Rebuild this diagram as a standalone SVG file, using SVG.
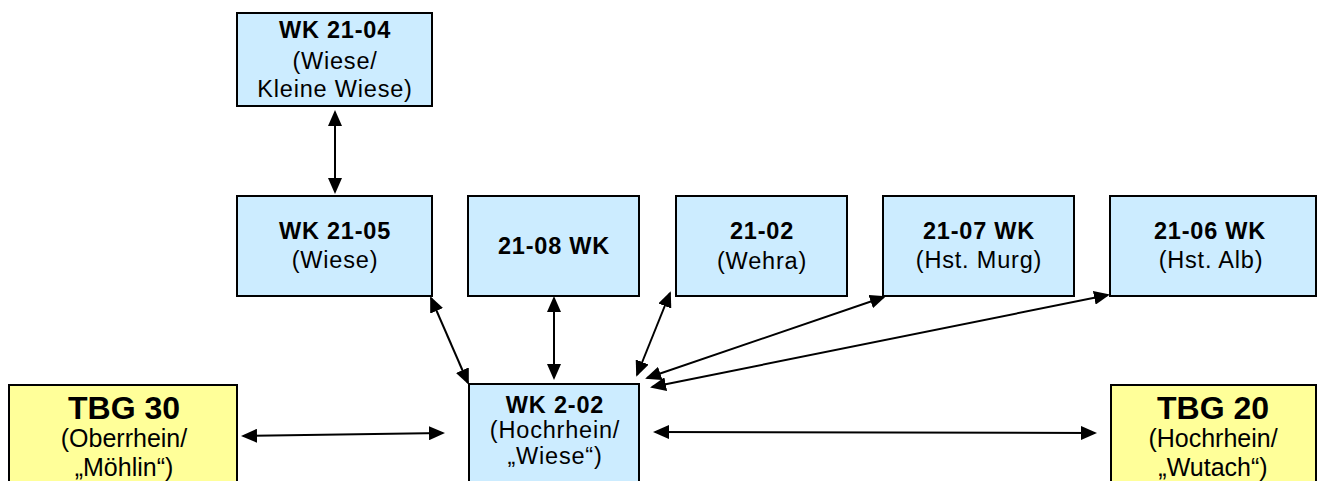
<svg xmlns="http://www.w3.org/2000/svg" width="1319" height="481" viewBox="0 0 1319 481">
<style>
.blue{fill:#CCECFF;stroke:#000;stroke-width:2}
.yel{fill:#FFFF99;stroke:#000;stroke-width:2}
text{font-family:"Liberation Sans",Arial,sans-serif;fill:#000;text-anchor:middle}
.wb{font-size:23.5px;font-weight:bold;letter-spacing:0.8px}
.wr{font-size:23.5px;letter-spacing:0.8px}
.tb{font-size:32px;font-weight:bold}
.tr{font-size:25px}
.c{stroke:#000;stroke-width:2;fill:none;marker-start:url(#ah);marker-end:url(#ah)}
</style>
<defs>
<marker id="ah" markerUnits="userSpaceOnUse" markerWidth="16" markerHeight="14" refX="14" refY="7" orient="auto-start-reverse" viewBox="0 0 16 14">
<path d="M0,0 L16,7 L0,14 z" fill="#000"/>
</marker>
</defs>
<rect width="1319" height="481" fill="#fff"/>
<g id="n2104">
<rect class="blue" x="237" y="13" width="195" height="93"/>
<text class="wb" x="335" y="38">WK 21-04</text>
<text class="wr" x="335" y="69">(Wiese/</text>
<text class="wr" x="335" y="97">Kleine Wiese)</text>
</g>
<g id="n2105">
<rect class="blue" x="237" y="196" width="195" height="100"/>
<text class="wb" x="335" y="239">WK 21-05</text>
<text class="wr" x="335" y="268">(Wiese)</text>
</g>
<g id="n2108">
<rect class="blue" x="468" y="196" width="171" height="100"/>
<text class="wb" x="554" y="254">21-08 WK</text>
</g>
<g id="n2102">
<rect class="blue" x="676" y="196" width="171" height="100"/>
<text class="wb" x="762" y="239">21-02</text>
<text class="wr" x="762" y="269">(Wehra)</text>
</g>
<g id="n2107">
<rect class="blue" x="883" y="196" width="191" height="100"/>
<text class="wb" x="979" y="239">21-07 WK</text>
<text class="wr" x="979" y="268">(Hst. Murg)</text>
</g>
<g id="n2106">
<rect class="blue" x="1110" y="196" width="206" height="100"/>
<text class="wb" x="1210" y="239">21-06 WK</text>
<text class="wr" x="1211" y="268">(Hst. Alb)</text>
</g>
<g id="n202">
<rect class="blue" x="469" y="384" width="170" height="115"/>
<text class="wb" x="555" y="413">WK 2-02</text>
<text class="wr" x="555" y="438">(Hochrhein/</text>
<text class="wr" x="555" y="464">„Wiese“)</text>
</g>
<g id="tbg30">
<rect class="yel" x="9" y="385" width="228" height="115"/>
<text class="tb" x="124" y="419">TBG 30</text>
<text class="tr" x="124" y="447">(Oberrhein/</text>
<text class="tr" x="124" y="476">„Möhlin“)</text>
</g>
<g id="tbg20">
<rect class="yel" x="1111" y="385" width="205" height="115"/>
<text class="tb" x="1213" y="419">TBG 20</text>
<text class="tr" x="1213" y="447">(Hochrhein/</text>
<text class="tr" x="1213" y="476">„Wutach“)</text>
</g>
<g id="connectors">
<line class="c" x1="335" y1="112" x2="335" y2="192"/>
<line class="c" x1="431" y1="298" x2="468" y2="383"/>
<line class="c" x1="554" y1="298" x2="554" y2="378"/>
<line class="c" x1="670" y1="293" x2="637" y2="375"/>
<line class="c" x1="884" y1="297" x2="647" y2="378"/>
<line class="c" x1="1108" y1="295" x2="652" y2="387"/>
<line class="c" x1="243" y1="436" x2="443" y2="433"/>
<line class="c" x1="655" y1="432" x2="1095" y2="433"/>
</g>
</svg>
